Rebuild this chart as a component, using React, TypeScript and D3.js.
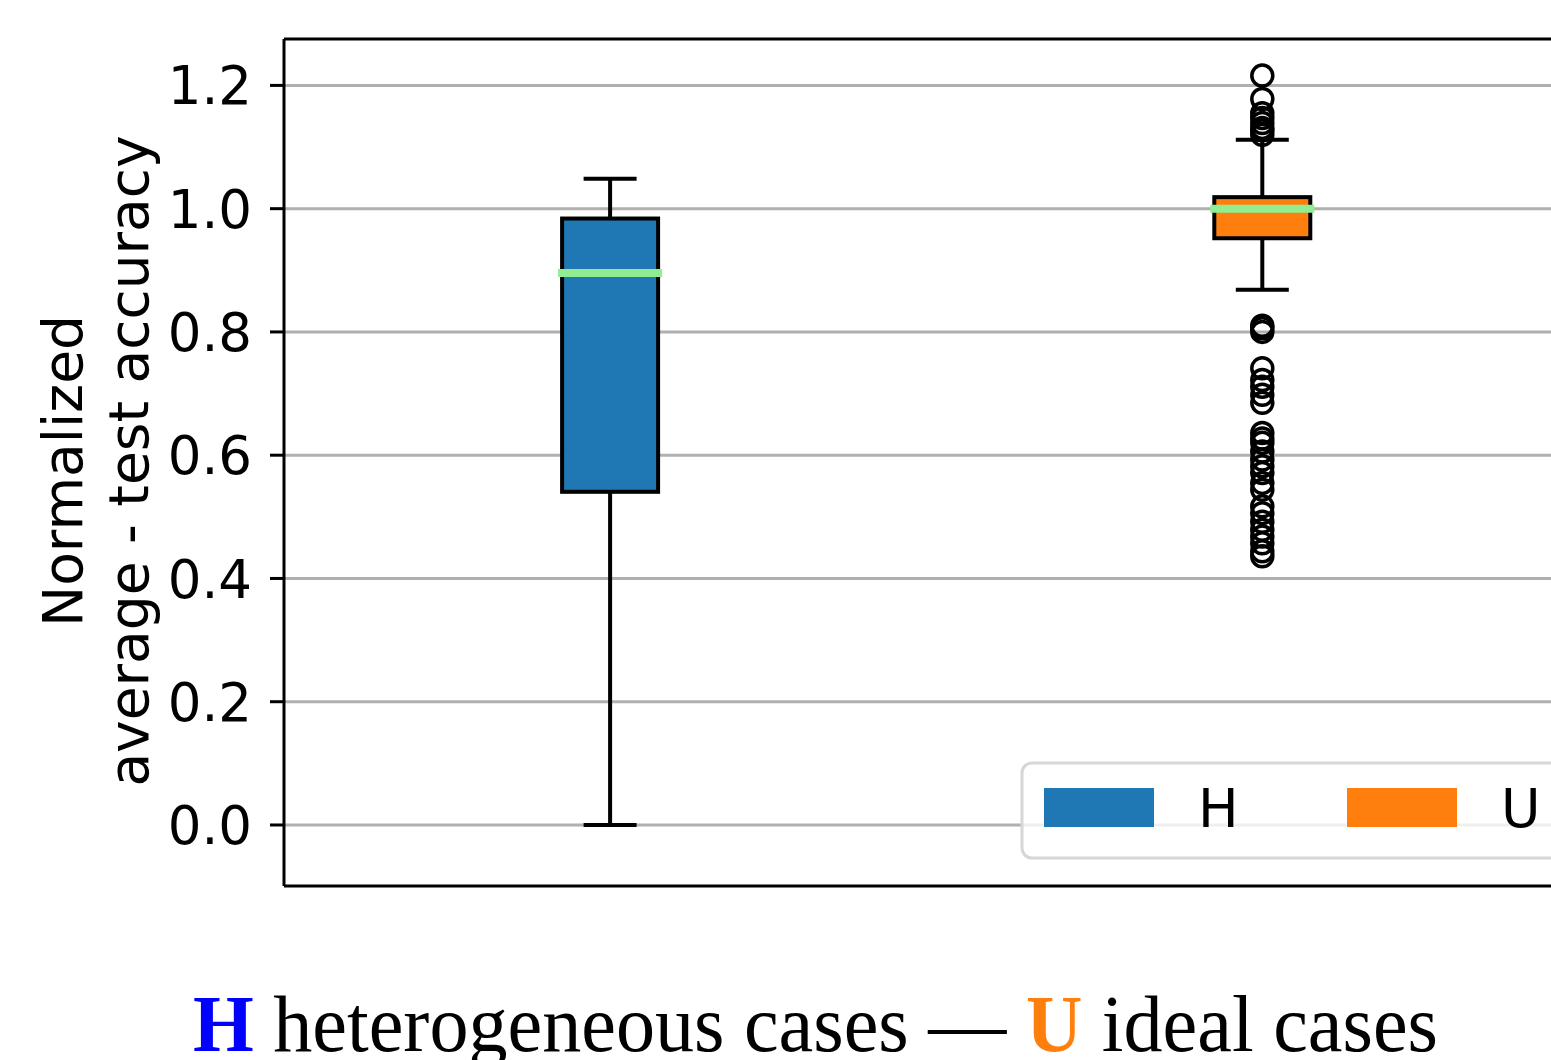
import React from "react";
import * as d3 from "d3";

// box stats (q1, median, q3, whisker low, whisker high)
const categories = ["H", "U"];
const boxColors = ["#1f77b4", "#ff7f0e"];
const q1 = [0.5406, 0.952];
const medians = [0.8956, 1.0];
const q3 = [0.984, 1.0187];
const whiskLow = [0.0, 0.8685];
const whiskHigh = [1.0487, 1.112];

// fliers of the U box
const outliersU = [
  1.2159, 1.178, 1.155, 1.147, 1.139, 1.131, 1.127, 1.12,
  0.81, 0.806, 0.8, 0.741, 0.722, 0.711, 0.698, 0.685,
  0.636, 0.627, 0.62, 0.606, 0.593, 0.582, 0.571, 0.555, 0.544,
  0.517, 0.506, 0.492, 0.479, 0.468, 0.457, 0.444, 0.436,
];

const yTicks = [0.0, 0.2, 0.4, 0.6, 0.8, 1.0, 1.2];

const W = 1551;
const H = 1060;
const left = 284;
const top = 39;
const bottom = 886;
const right = 1588.4;

const sans = "'DejaVu Sans', sans-serif";

export default function App() {
  const y = d3.scaleLinear().domain([-0.099, 1.2753]).range([bottom, top]);
  const x = d3.scaleLinear().domain([0.5, 2.5]).range([left, right]);
  const boxW = 100;
  const capW = 53;

  return (
    <svg
      width={W}
      height={H}
      style={{ position: "absolute", left: 0, top: 0, background: "#fff" }}
    >
      {/* grid */}
      {yTicks.map((t) => (
        <line
          key={"g" + t}
          x1={left}
          x2={right}
          y1={y(t)}
          y2={y(t)}
          stroke="#b0b0b0"
          strokeWidth={3}
        />
      ))}

      {/* boxes */}
      {categories.map((c, i) => {
        const cx = x(i + 1);
        return (
          <g key={c}>
            <line x1={cx} x2={cx} y1={y(q1[i])} y2={y(whiskLow[i])} stroke="#000" strokeWidth={4} />
            <line x1={cx} x2={cx} y1={y(q3[i])} y2={y(whiskHigh[i])} stroke="#000" strokeWidth={4} />
            <line x1={cx - capW / 2} x2={cx + capW / 2} y1={y(whiskLow[i])} y2={y(whiskLow[i])} stroke="#000" strokeWidth={4} />
            <line x1={cx - capW / 2} x2={cx + capW / 2} y1={y(whiskHigh[i])} y2={y(whiskHigh[i])} stroke="#000" strokeWidth={4} />
            <rect
              x={cx - boxW / 2 + 2}
              y={y(q3[i])}
              width={boxW - 4}
              height={y(q1[i]) - y(q3[i])}
              fill={boxColors[i]}
              stroke="#000"
              strokeWidth={4}
            />
            <line
              x1={cx - boxW / 2 - 2}
              x2={cx + boxW / 2 + 2}
              y1={y(medians[i])}
              y2={y(medians[i])}
              stroke="#90ee90"
              strokeWidth={8}
            />
          </g>
        );
      })}

      {/* fliers */}
      {outliersU.map((v, k) => (
        <circle
          key={"o" + k}
          cx={x(2)}
          cy={y(v)}
          r={10.5}
          fill="none"
          stroke="#000"
          strokeWidth={3.5}
        />
      ))}

      {/* spines */}
      <line x1={left} x2={left} y1={top} y2={bottom} stroke="#000" strokeWidth={3} />
      <line x1={left} x2={right} y1={top} y2={top} stroke="#000" strokeWidth={3} />
      <line x1={left} x2={right} y1={bottom} y2={bottom} stroke="#000" strokeWidth={3} />
      <line x1={right} x2={right} y1={top} y2={bottom} stroke="#000" strokeWidth={3} />

      {/* y axis */}
      {yTicks.map((t) => (
        <g key={"t" + t}>
          <line x1={left - 14} x2={left} y1={y(t)} y2={y(t)} stroke="#000" strokeWidth={3} />
          <text
            x={252}
            y={y(t)}
            dy="0.36em"
            textAnchor="end"
            fontFamily={sans}
            fontSize={53}
            fill="#000"
          >
            {d3.format(".1f")(t)}
          </text>
        </g>
      ))}
      <text
        transform="translate(82,471) rotate(-90)"
        textAnchor="middle"
        fontFamily={sans}
        fontSize={55}
        fill="#000"
      >
        Normalized
      </text>
      <text
        transform="translate(148,461) rotate(-90)"
        textAnchor="middle"
        fontFamily={sans}
        fontSize={55}
        fill="#000"
      >
        average - test accuracy
      </text>

      {/* legend */}
      <g>
        <rect
          x={1022}
          y={763}
          width={620}
          height={95}
          rx={10}
          fill="#fff"
          fillOpacity={0.8}
          stroke="#d6d6d6"
          strokeWidth={3}
        />
        {categories.map((c, i) => (
          <g key={"l" + c} transform={`translate(${1044 + i * 303},0)`}>
            <rect x={0} y={788} width={110} height={39} fill={boxColors[i]} />
            <text x={154} y={827} fontFamily={sans} fontSize={54} fill="#000">
              {c}
            </text>
          </g>
        ))}
      </g>

      {/* caption */}
      <text
        x={193}
        y={1051}
        fontFamily="'Liberation Serif', serif"
        fontSize={80}
        fill="#000"
        textLength={1245}
        lengthAdjust="spacingAndGlyphs"
      >
        <tspan fontWeight="bold" fill="#0000ff">H</tspan>
        <tspan> heterogeneous cases — </tspan>
        <tspan fontWeight="bold" fill="#ff7f0e">U</tspan>
        <tspan> ideal cases</tspan>
      </text>
    </svg>
  );
}
